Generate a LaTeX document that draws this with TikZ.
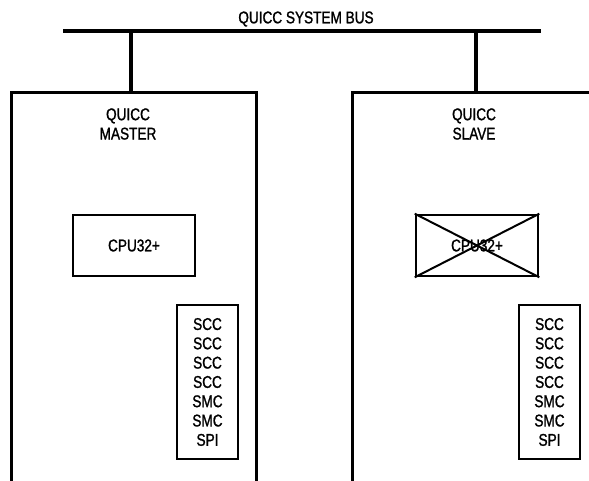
\documentclass[tikz,border=0pt]{standalone}
\usepackage{fontspec}
\setmainfont[FakeStretch=0.8,FakeBold=1.2]{Liberation Sans}
\begin{document}
\begin{tikzpicture}[x=1bp,y=-1bp,
  txt/.style={font=\fontsize{17bp}{19.3bp}\selectfont, inner sep=0pt, align=center},
  unit/.style={draw, line width=2.6bp, inner sep=0pt, font=\fontsize{17bp}{19.3bp}\selectfont, align=center},
  outer/.style={line width=3bp},
  bus/.style={line width=4.2bp},
  cross/.style={line width=2bp}]
\useasboundingbox (0,0) rectangle (589,481);
\clip (0,0) rectangle (589,481);
% system bus
\coordinate (busL) at (63,31);
\coordinate (busR) at (541,31);
\draw[bus] (busL) -- (busR);
\node[txt] (bustitle) at (306,19) {QUICC SYSTEM BUS};
% master
\coordinate (mbus) at (131,31);
\coordinate (mtop) at (131,93);
\draw[outer] (11,495) |- (256,93) -- (256,495);
\draw[bus] (mbus) -- (mtop);
\node[txt] (mlabel) at (128,124) {QUICC\\MASTER};
\node[unit, minimum width=122bp, minimum height=61bp] (mcpu) at (134,245.5) {CPU32+};
\node[unit, minimum width=61bp, minimum height=154bp] (mper) at (207.5,382) {SCC\\SCC\\SCC\\SCC\\SMC\\SMC\\SPI};
% slave
\coordinate (sbus) at (476,31);
\coordinate (stop) at (476,93);
\draw[outer] (352,495) |- (600,93);
\draw[bus] (sbus) -- (stop);
\node[txt] (slabel) at (474,124) {QUICC\\SLAVE};
\node[unit, minimum width=122bp, minimum height=61bp] (scpu) at (477,245.5) {CPU32+};
\draw[cross] (scpu.north west) -- (scpu.south east) (scpu.north east) -- (scpu.south west);
\node[unit, minimum width=61bp, minimum height=154bp] (sper) at (549.5,382) {SCC\\SCC\\SCC\\SCC\\SMC\\SMC\\SPI};
\end{tikzpicture}
\end{document}
